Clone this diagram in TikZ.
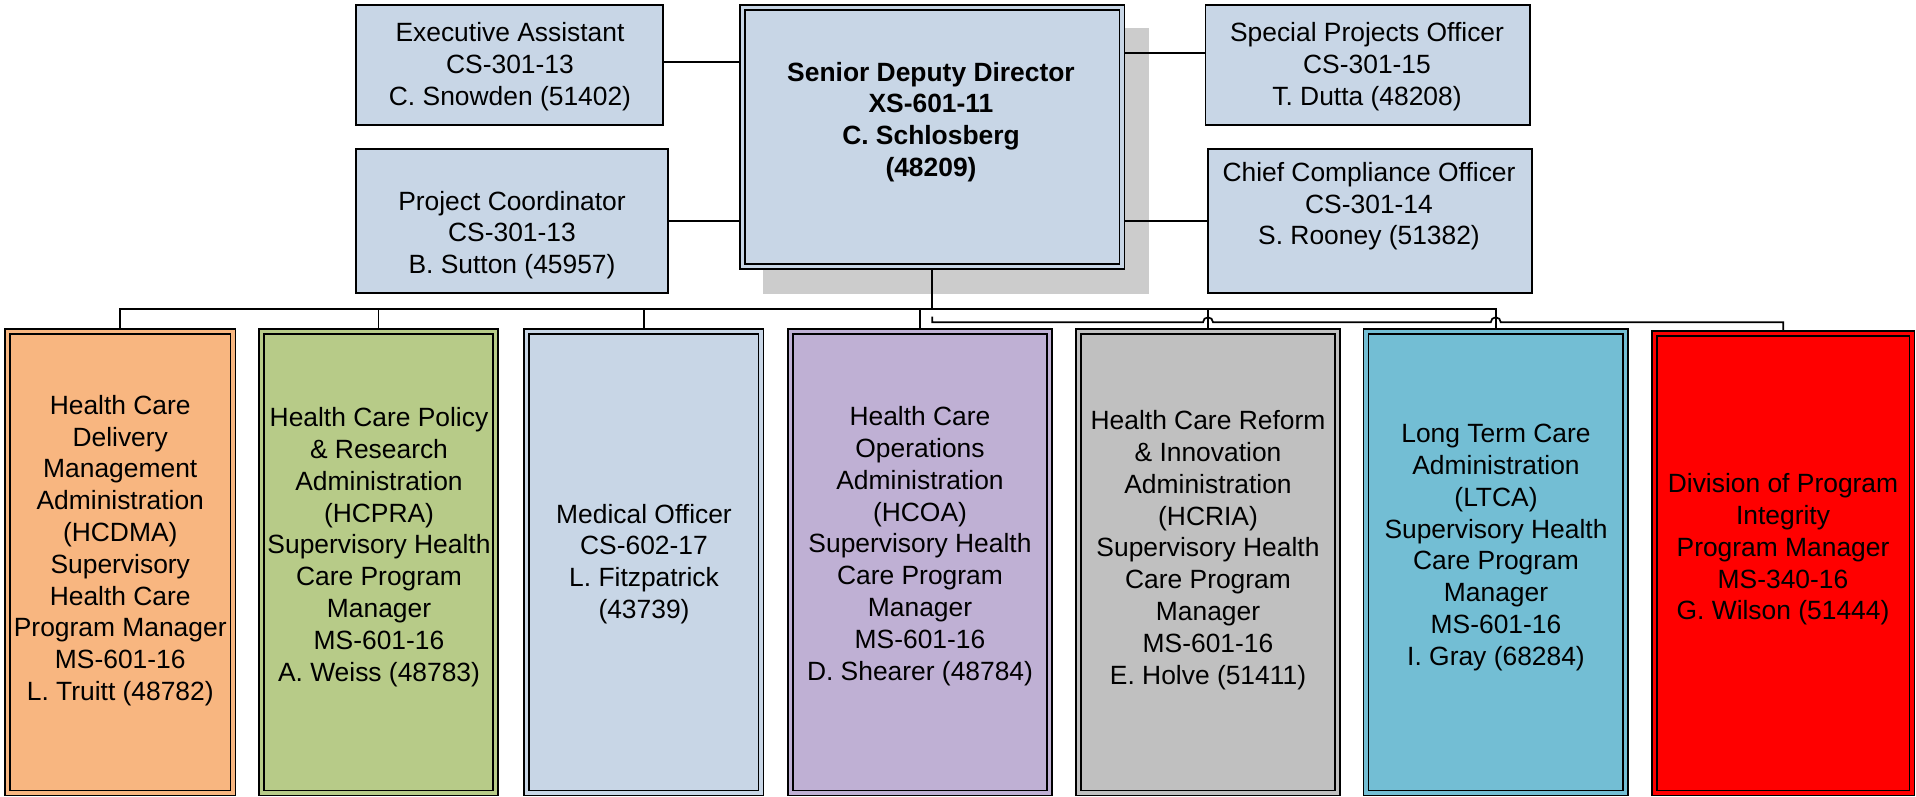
\documentclass[tikz,border=0pt]{standalone}
\usepackage{fontspec}
\setmainfont{Liberation Sans}
\usetikzlibrary{calc}
\definecolor{lblue}{RGB}{200,214,230}
\definecolor{corange}{RGB}{248,182,128}
\definecolor{cgreen}{RGB}{183,203,136}
\definecolor{cpurple}{RGB}{191,176,212}
\definecolor{cgray}{RGB}{192,192,192}
\definecolor{caqua}{RGB}{115,190,212}
\definecolor{cred}{RGB}{255,0,0}
\definecolor{cshadow}{RGB}{204,204,204}
\pgfdeclarelayer{background}
\pgfsetlayers{background,main}
\tikzset{
  sbox/.style={draw=black, line width=1.7pt, fill=lblue, rectangle, inner sep=0pt},
  dbox/.style={draw=black, line width=1.6pt, double=#1, double distance=3.4pt, fill=#1, rectangle, inner sep=0pt},
  txt/.style={align=center, font=\fontsize{26.4}{31.8}\selectfont, inner sep=0pt},
  conn/.style={draw=black, line width=1.7pt},
}
\begin{document}
\begin{tikzpicture}[x=1pt,y=-1pt]
\useasboundingbox (0,0) rectangle (1916,797);
% top row
\node[sbox, minimum width=307pt, minimum height=120pt] (exec) at (509.5,65) {};
\node[sbox, minimum width=312pt, minimum height=144pt] (proj) at (512,221) {};
\node[sbox, minimum width=324.4pt, minimum height=120pt] (spec) at (1367.8,65) {};
\node[sbox, minimum width=324.3pt, minimum height=144pt] (chief) at (1369.85,221) {};
\node[dbox=lblue, minimum width=379.5pt, minimum height=259pt] (senior) at (932.25,137) {};
% bottom row
\node[dbox=corange, minimum width=225.5pt, minimum height=461.5pt] (b1) at (120.25,562.25) {};
\node[dbox=cgreen, minimum width=234pt, minimum height=461.5pt] (b2) at (378.5,562.25) {};
\node[dbox=lblue, minimum width=234.5pt, minimum height=461.5pt] (b3) at (643.75,562.25) {};
\node[dbox=cpurple, minimum width=259pt, minimum height=461.5pt] (b4) at (920,562.25) {};
\node[dbox=cgray, minimum width=259pt, minimum height=461.5pt] (b5) at (1208,562.25) {};
\node[dbox=caqua, minimum width=259.5pt, minimum height=461.5pt] (b6) at (1495.75,562.25) {};
\node[dbox=cred, minimum width=257.5pt, minimum height=459.5pt] (red) at (1783.25,563.25) {};
% texts
\node[txt] (texec) at (510,66.5) {Executive Assistant\\CS-301-13\\C. Snowden (51402)};
\node[txt] (tproj) at (512,235) {Project Coordinator\\CS-301-13\\B. Sutton (45957)};
\node[txt] (tspec) at (1367,66.5) {Special Projects Officer\\CS-301-15\\T. Dutta (48208)};
\node[txt] (tchief) at (1369,206.3) {Chief Compliance Officer\\CS-301-14\\S. Rooney (51382)};
\node[txt, font=\fontsize{26.4}{31.8}\selectfont\bfseries] (tsenior) at (931,122) {Senior Deputy Director\\XS-601-11\\C. Schlosberg\\(48209)};
\node[txt] (tb1) at (120.25,550.5) {Health Care\\Delivery\\Management\\Administration\\(HCDMA)\\Supervisory\\Health Care\\Program Manager\\MS-601-16\\L. Truitt (48782)};
\node[txt] (tb2) at (379,547) {Health Care Policy\\\& Research\\Administration\\(HCPRA)\\Supervisory Health\\Care Program\\Manager\\MS-601-16\\A. Weiss (48783)};
\node[txt] (tb3) at (644,564) {Medical Officer\\CS-602-17\\L. Fitzpatrick\\(43739)};
\node[txt] (tb4) at (920,546) {Health Care\\Operations\\Administration\\(HCOA)\\Supervisory Health\\Care Program\\Manager\\MS-601-16\\D. Shearer (48784)};
\node[txt] (tb5) at (1208,550) {Health Care Reform\\\& Innovation\\Administration\\(HCRIA)\\Supervisory Health\\Care Program\\Manager\\MS-601-16\\E. Holve (51411)};
\node[txt] (tb6) at (1496,547.5) {Long Term Care\\Administration\\(LTCA)\\Supervisory Health\\Care Program\\Manager\\MS-601-16\\I. Gray (68284)};
\node[txt] (tred) at (1783,549.5) {Division of Program\\Integrity\\Program Manager\\MS-340-16\\G. Wilson (51444)};
% helper coordinates
\coordinate (yexec) at (0,62);
\coordinate (yspec) at (0,52.7);
\coordinate (ylow) at (0,220.7);
\coordinate (busA) at (0,309);
\coordinate (busB) at (0,322.3);
\coordinate (r0) at (932.25,316.7);
\begin{pgfonlayer}{background}
\fill[cshadow] (763,27.7) rectangle (1148.5,294);
\draw[conn] (exec.east |- yexec) -- (senior.west |- yexec);
\draw[conn] (proj.east |- ylow) -- (senior.west |- ylow);
\draw[conn] (senior.east |- yspec) -- (spec.west |- yspec);
\draw[conn] (senior.east |- ylow) -- (chief.west |- ylow);
\draw[conn] (senior.south) |- (b1.north |- busA) -- (b1.north);
\draw[conn] (senior.south) |- (b2.north |- busA) -- (b2.north);
\draw[conn] (senior.south) |- (b3.north |- busA) -- (b3.north);
\draw[conn] (senior.south) |- (b4.north |- busA) -- (b4.north);
\draw[conn] (senior.south) |- (b5.north |- busA) -- (b5.north);
\draw[conn] (senior.south) |- (b6.north |- busA) -- (b6.north);
\draw[conn] (r0) |- ($(b5.north |- busB)+(-5,0)$) arc[start angle=180, end angle=360, radius=5]
  -- ($(b6.north |- busB)+(-5,0)$) arc[start angle=180, end angle=360, radius=5]
  -| (red.north);
\end{pgfonlayer}
\end{tikzpicture}
\end{document}
